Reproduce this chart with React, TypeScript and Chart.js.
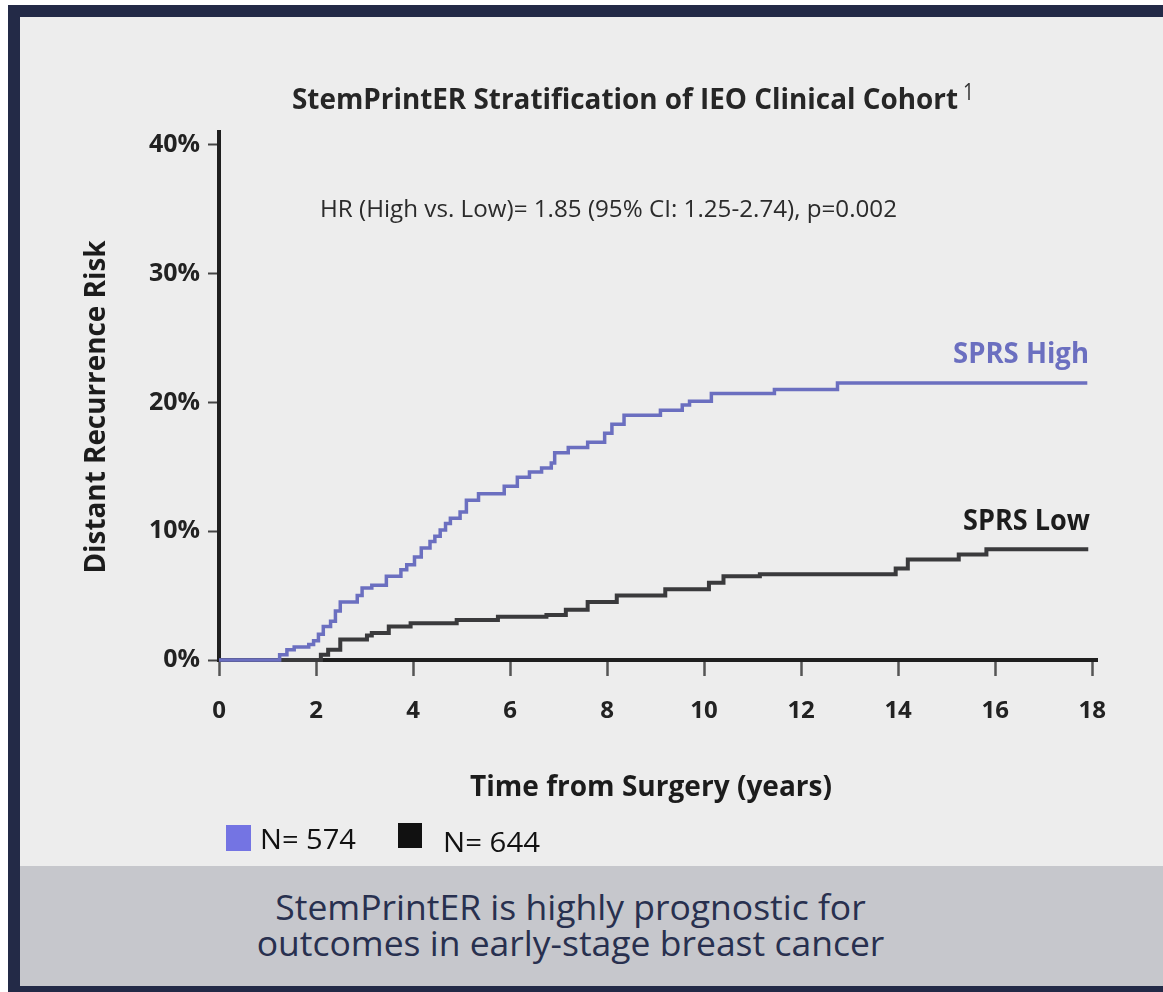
import React, { useEffect, useRef } from "react";
import { Chart, registerables } from "chart.js";

Chart.register(...registerables);

// ---------- data ----------
const HIGH_T = [0, 1.25, 1.4, 1.55, 1.85, 1.95, 2.05, 2.15, 2.3, 2.4, 2.5, 2.85, 2.95, 3.15, 3.45, 3.75, 3.87, 4.03, 4.17, 4.35, 4.45, 4.56, 4.67, 4.77, 4.97, 5.1, 5.35, 5.88, 6.15, 6.4, 6.65, 6.85, 6.92, 7.2, 7.6, 7.95, 8.1, 8.35, 9.1, 9.55, 9.7, 10.15, 11.45, 12.75, 17.9];
const HIGH_V = [0, 0.4, 0.8, 1.0, 1.2, 1.5, 2.0, 2.6, 3.0, 3.8, 4.5, 5.0, 5.6, 5.8, 6.5, 7.0, 7.4, 8.0, 8.7, 9.2, 9.6, 10.1, 10.6, 11.0, 11.5, 12.4, 12.9, 13.5, 14.2, 14.6, 14.9, 15.3, 16.1, 16.5, 16.9, 17.6, 18.3, 19.0, 19.4, 19.8, 20.1, 20.7, 21.0, 21.5, 21.5];
const LOW_T = [0, 2.1, 2.25, 2.5, 3.05, 3.15, 3.5, 3.95, 4.9, 5.75, 6.75, 7.15, 7.6, 8.2, 9.2, 10.1, 10.4, 11.15, 13.95, 14.2, 15.25, 15.82, 17.92];
const LOW_V = [0, 0.4, 0.8, 1.6, 1.9, 2.1, 2.6, 2.85, 3.1, 3.35, 3.5, 3.9, 4.5, 5.0, 5.5, 6.0, 6.5, 6.65, 7.1, 7.8, 8.2, 8.6, 8.6];

const X_TICKS = [0, 2, 4, 6, 8, 10, 12, 14, 16, 18];
const Y_TICKS = [0, 10, 20, 30, 40];
const SERIES_NAMES = ["SPRS High", "SPRS Low"];
const LEGEND_LABELS = ["N= 574", "N= 644"];

const TITLE = "StemPrintER Stratification of IEO Clinical Cohort";
const TITLE_NOTE = "1";
const HR_TEXT = "HR (High vs. Low)= 1.85 (95% CI: 1.25-2.74), p=0.002";
const X_TITLE = "Time from Surgery (years)";
const Y_TITLE = "Distant Recurrence Risk";
const FOOTER_LINES = ["StemPrintER is highly prognostic for", "outcomes in early-stage breast cancer"];

// ---------- styles ----------
const BLUE = "#6b6fc0";
const DARK = "#3a3a3c";
const AXIS = "#1f1f1f";
const FONT = "'Open Sans', 'Noto Sans', sans-serif";

function fitText(
  ctx: CanvasRenderingContext2D,
  text: string,
  x: number,
  y: number,
  font: string,
  width: number,
  align: CanvasTextAlign,
  color: string,
  rotate = 0
) {
  ctx.save();
  ctx.font = font;
  const w = ctx.measureText(text).width;
  const s = width / w;
  ctx.translate(x, y);
  if (rotate) ctx.rotate(rotate);
  ctx.scale(s, 1);
  ctx.textAlign = align;
  ctx.textBaseline = "alphabetic";
  ctx.fillStyle = color;
  ctx.fillText(text, 0, 0);
  ctx.restore();
}

const textPlugin = {
  id: "annotTexts",
  afterDraw(chart: any) {
    const ctx = chart.ctx as CanvasRenderingContext2D;
    // title
    fitText(ctx, TITLE, 272, 92, `bold 28px ${FONT}`, 666, "left", "#262626");
    fitText(ctx, TITLE_NOTE, 943, 83, `400 24px ${FONT}`, 11, "left", "#333");
    // HR
    fitText(ctx, HR_TEXT, 300, 200, `400 24px ${FONT}`, 577, "left", "#2b2b2b");
    // series labels
    fitText(ctx, SERIES_NAMES[0], 1069, 346, `bold 28px ${FONT}`, 136, "right", BLUE);
    fitText(ctx, SERIES_NAMES[1], 1070, 513, `bold 28px ${FONT}`, 127, "right", "#1c1c1c");
    // axis titles
    fitText(ctx, X_TITLE, 631, 779, `bold 28px ${FONT}`, 362, "center", "#1c1c1c");
    fitText(ctx, Y_TITLE, 85, 390, `bold 28px ${FONT}`, 333, "center", "#1c1c1c", -Math.PI / 2);
    // legend
    ctx.save();
    ctx.fillStyle = "#7474e3";
    ctx.fillRect(206, 808, 25, 26);
    ctx.fillStyle = "#111111";
    ctx.fillRect(378, 806, 24, 25);
    ctx.restore();
    fitText(ctx, LEGEND_LABELS[0], 240, 832, `400 28px ${FONT}`, 96, "left", "#111");
    fitText(ctx, LEGEND_LABELS[1], 423, 835, `400 28px ${FONT}`, 97, "left", "#111");
  },
};

function KMChart() {
  const ref = useRef<HTMLCanvasElement | null>(null);
  useEffect(() => {
    if (!ref.current) return;
    const chart = new Chart(ref.current, {
      type: "line",
      data: {
        datasets: [
          {
            label: SERIES_NAMES[0],
            data: HIGH_T.map((t, i) => ({ x: t, y: HIGH_V[i] })),
            borderColor: BLUE,
            borderWidth: 3.5,
            stepped: "before",
            pointRadius: 0,
            fill: false,
            clip: 6,
          },
          {
            label: SERIES_NAMES[1],
            data: LOW_T.map((t, i) => ({ x: t, y: LOW_V[i] })),
            borderColor: DARK,
            borderWidth: 4,
            stepped: "before",
            pointRadius: 0,
            fill: false,
            clip: 6,
          },
        ],
      },
      options: {
        animation: false,
        responsive: false,
        maintainAspectRatio: false,
        layout: { padding: { left: 0, top: 115, right: 66, bottom: 0 } },
        plugins: {
          legend: { display: false },
          tooltip: { enabled: false },
          title: { display: false },
        },
        scales: {
          x: {
            type: "linear",
            min: 0,
            max: 18.1,
            afterBuildTicks: (s: any) => {
              s.ticks = X_TICKS.map((v) => ({ value: v }));
            },
            afterFit: (s: any) => {
              s.height = 206;
            },
            grid: {
              drawOnChartArea: false,
              drawTicks: true,
              tickLength: 16,
              tickWidth: 2.5,
              tickColor: "#555",
              color: "#555",
            },
            border: { display: true, color: AXIS, width: 4 },
            ticks: {
              padding: 21,
              color: "#222",
              maxRotation: 0,
              autoSkip: false,
              font: { family: FONT, weight: "bold", size: 24 },
            },
          },
          y: {
            type: "linear",
            min: 0,
            max: 41,
            afterBuildTicks: (s: any) => {
              s.ticks = Y_TICKS.map((v) => ({ value: v }));
            },
            afterFit: (s: any) => {
              s.width = 199;
            },
            grid: {
              drawOnChartArea: false,
              drawTicks: true,
              tickLength: 11,
              tickWidth: 2,
              tickColor: "#444",
              color: "#444",
            },
            border: { display: true, color: AXIS, width: 4 },
            ticks: {
              padding: 8,
              color: "#222",
              font: { family: FONT, weight: "bold", size: 25 },
              callback: (v: any) => `${v}%`,
            },
          },
        },
      },
      plugins: [textPlugin],
    } as any);
    return () => chart.destroy();
  }, []);
  return <canvas ref={ref} width={1143} height={849} style={{ display: "block", width: 1143, height: 849 }} />;
}

export default function App() {
  return (
    <div
      style={{
        position: "absolute",
        left: 8,
        top: 5,
        width: 1155,
        height: 987,
        boxSizing: "border-box",
        borderLeft: "12px solid #232a47",
        borderTop: "12px solid #232a47",
        borderBottom: "6px solid #232a47",
        background: "#ededed",
        overflow: "hidden",
      }}
    >
      <KMChart />
      <div
        style={{
          height: 120,
          boxSizing: "border-box",
          background: "#c6c7cc",
          paddingTop: 22,
          paddingRight: 42,
          textAlign: "center",
          fontFamily: FONT,
          fontSize: 35.5,
          lineHeight: "36px",
          color: "#28304f",
        }}
      >
        {FOOTER_LINES.map((l, i) => (
          <div key={i}>{l}</div>
        ))}
      </div>
    </div>
  );
}
